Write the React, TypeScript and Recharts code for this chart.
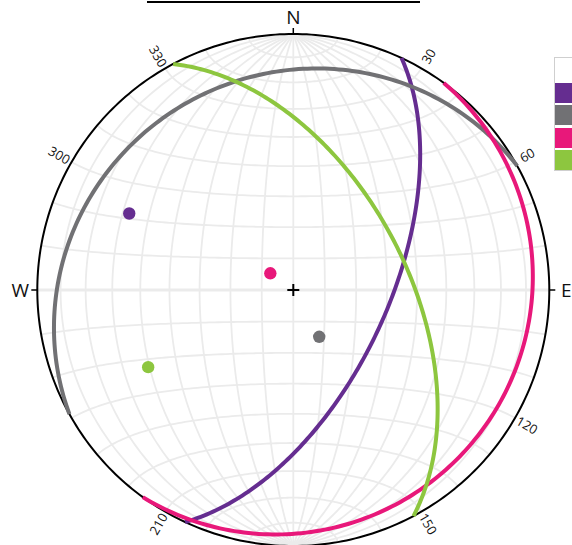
import React from 'react';
import { ScatterChart, Scatter, XAxis, YAxis } from 'recharts';

const W = 572;
const H = 545;
const CX = 293.3;
const CY = 290;
const R = 256;

// Planes (dip direction / dip, degrees)
const planeNames = ['Plane 1', 'Plane 2', 'Plane 3', 'Plane 4'];
const planeDipDirs = [115, 331, 126, 62];
const planeDips = [60, 17, 9, 54];
const planeColors = ['#652D90', '#717174', '#E8187A', '#8DC63F'];

// Azimuth labels around the primitive
const degreeLabels = [30, 60, 120, 150, 210, 300, 330];
const compassNames = ['N', 'E', 'W'];
const compassAzimuths = [0, 90, 270];
const tickAzimuths = [0, 90, 180, 270];
const netAngles = [10, 20, 30, 40, 50, 60, 70, 80];

const rad = (d: number) => (d * Math.PI) / 180;
// equal-area (Schmidt) lower-hemisphere projection of (east, north, down)
const proj = (e: number, n: number, d: number) => {
  const k = 1 / Math.sqrt(1 + d);
  return { x: e * k, y: n * k };
};

const greatCircle = (dd: number, dip: number, steps = 160) => {
  const s = [Math.sin(rad(dd - 90)), Math.cos(rad(dd - 90)), 0];
  const v = [
    Math.sin(rad(dd)) * Math.cos(rad(dip)),
    Math.cos(rad(dd)) * Math.cos(rad(dip)),
    Math.sin(rad(dip)),
  ];
  const pts = [];
  for (let i = 0; i <= steps; i++) {
    const t = (Math.PI * i) / steps;
    const c = Math.cos(t);
    const sn = Math.sin(t);
    pts.push(proj(c * s[0] + sn * v[0], c * s[1] + sn * v[1], Math.max(0, c * s[2] + sn * v[2])));
  }
  return pts;
};

const smallCircleNS = (beta: number, steps = 120) => {
  const pts = [];
  for (let i = 0; i <= steps; i++) {
    const p = (Math.PI * i) / steps;
    const e = Math.sin(rad(beta)) * Math.cos(p);
    const n = Math.cos(rad(beta));
    const d = Math.sin(rad(beta)) * Math.sin(p);
    pts.push(proj(e, n, Math.max(0, d)));
  }
  return pts;
};

const pole = (dd: number, dip: number) =>
  proj(-Math.sin(rad(dd)) * Math.sin(rad(dip)), -Math.cos(rad(dd)) * Math.sin(rad(dip)), Math.cos(rad(dip)));

const polar = (az: number, r: number) => ({ x: r * Math.sin(rad(az)), y: r * Math.cos(rad(az)) });

const primitive = Array.from({ length: 361 }, (_, i) => polar(i, 1));

const meridians: { x: number; y: number }[][] = [];
netAngles.forEach((a) => {
  meridians.push(greatCircle(90, a));
  meridians.push(greatCircle(270, a));
});
meridians.push([{ x: 0, y: 1 }, { x: 0, y: -1 }]);

const parallels: { x: number; y: number }[][] = [];
netAngles.forEach((a) => {
  parallels.push(smallCircleNS(a));
  parallels.push(smallCircleNS(180 - a));
});
const ewLine = [{ x: -1, y: 0 }, { x: 1, y: 0 }];

const rotFor = (az: number) => {
  let r = az - 90;
  if (r > 90) r -= 180;
  if (r < -90) r += 180;
  return r;
};

const degreeData = degreeLabels.map((az) => ({ ...polar(az, (R + 14) / R), label: String(az), rot: rotFor(az) }));
const compassData = compassNames.map((nm, i) => ({ ...polar(compassAzimuths[i], (R + 17) / R), label: nm }));
const ticks = tickAzimuths.map((az) => [polar(az, 1), polar(az, (R + 6) / R)]);
const topRule = [
  { x: (147 - CX) / R, y: (CY - 2) / R },
  { x: (420 - CX) / R, y: (CY - 2) / R },
];

const xDomain = [(0 - CX) / R, (W - CX) / R];
const yDomain = [(CY - H) / R, CY / R];

const GRID = '#ebebeb';
const NoShape = () => <g />;

export default function App() {
  return (
    <div style={{ position: 'absolute', left: 0, top: 0, width: W, height: H, overflow: 'hidden', background: '#fff' }}>
      <ScatterChart width={W} height={H} margin={{ top: 0, right: 0, bottom: 0, left: 0 }}>
        <XAxis type="number" dataKey="x" domain={xDomain} hide allowDataOverflow />
        <YAxis type="number" dataKey="y" domain={yDomain} hide allowDataOverflow />
        {meridians.map((m, i) => (
          <Scatter key={'m' + i} data={m} line={{ stroke: GRID, strokeWidth: 1.8 }} lineType="joint" shape={NoShape} isAnimationActive={false} />
        ))}
        {parallels.map((m, i) => (
          <Scatter key={'p' + i} data={m} line={{ stroke: GRID, strokeWidth: 1.8 }} lineType="joint" shape={NoShape} isAnimationActive={false} />
        ))}
        <Scatter data={ewLine} line={{ stroke: GRID, strokeWidth: 3 }} lineType="joint" shape={NoShape} isAnimationActive={false} />
        <Scatter data={primitive} line={{ stroke: '#000', strokeWidth: 2 }} lineType="joint" shape={NoShape} isAnimationActive={false} />
        {ticks.map((t, i) => (
          <Scatter key={'t' + i} data={t} line={{ stroke: '#000', strokeWidth: 1.5 }} lineType="joint" shape={NoShape} isAnimationActive={false} />
        ))}
        <Scatter data={topRule} line={{ stroke: '#000', strokeWidth: 2 }} lineType="joint" shape={NoShape} isAnimationActive={false} />
        {planeDipDirs.map((dd, i) => (
          <Scatter
            key={'gc' + i}
            name={planeNames[i]}
            data={greatCircle(dd, planeDips[i])}
            line={{ stroke: planeColors[i], strokeWidth: 4, strokeLinecap: 'butt' }}
            lineType="joint"
            shape={NoShape}
            isAnimationActive={false}
          />
        ))}
        {planeDipDirs.map((dd, i) => (
          <Scatter
            key={'pole' + i}
            data={[pole(dd, planeDips[i])]}
            shape={(p: any) => <circle cx={p.cx} cy={p.cy} r={6.2} fill={planeColors[i]} />}
            isAnimationActive={false}
          />
        ))}
        <Scatter
          data={[{ x: 0, y: 0 }]}
          shape={(p: any) => (
            <g stroke="#000" strokeWidth={2}>
              <line x1={p.cx - 6} x2={p.cx + 6} y1={p.cy} y2={p.cy} />
              <line x1={p.cx} x2={p.cx} y1={p.cy - 6} y2={p.cy + 6} />
            </g>
          )}
          isAnimationActive={false}
        />
        <Scatter
          data={degreeData}
          shape={(p: any) => (
            <text
              x={p.cx}
              y={p.cy}
              textAnchor="middle"
              dominantBaseline="central"
              fontFamily="'Open Sans', sans-serif"
              fontSize={13}
              fill="#111"
              transform={`rotate(${p.payload.rot} ${p.cx} ${p.cy})`}
            >
              {p.payload.label}
            </text>
          )}
          isAnimationActive={false}
        />
        <Scatter
          data={compassData}
          shape={(p: any) => (
            <text x={p.cx} y={p.cy} textAnchor="middle" dominantBaseline="central" fontFamily="'Open Sans', sans-serif" fontSize={19} fill="#111">
              {p.payload.label}
            </text>
          )}
          isAnimationActive={false}
        />
      </ScatterChart>
      <div style={{ position: 'absolute', left: 554, top: 57, border: '1px solid #cfcfcf', background: '#fff', width: 120 }}>
        <div style={{ height: 22 }} />
        {planeNames.map((nm, i) => (
          <div key={nm} title={nm} style={{ height: 20, marginTop: 2.5, width: 22, background: planeColors[i] }} />
        ))}
      </div>
    </div>
  );
}
